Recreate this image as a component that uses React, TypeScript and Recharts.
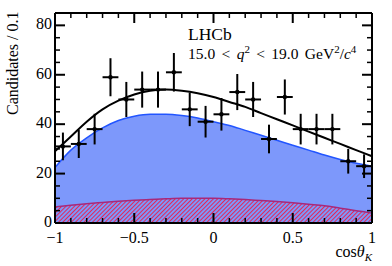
import { ComposedChart, Area, Line, Scatter, ErrorBar, XAxis, YAxis } from 'recharts'

// fit curves sampled every 0.1 in cos(theta_K)
const curveX = [-1, -0.9, -0.8, -0.7, -0.6, -0.5, -0.4, -0.3, -0.2, -0.1, 0, 0.1, 0.2, 0.3, 0.4, 0.5, 0.6, 0.7, 0.8, 0.9, 1]
const totalFit = [29, 35, 41, 46, 49.5, 52, 53.5, 54, 53.5, 52.5, 51, 49, 47, 44.5, 42, 39.5, 37, 34.5, 32, 29.5, 27]
const signalFit = [22.5, 29.5, 34.5, 38.5, 41.5, 43.2, 44, 44, 43.5, 42.5, 41, 39.5, 37.5, 35.5, 33.5, 31.5, 29.5, 27.5, 25.7, 24.2, 23]
const backgroundFit = [6.5, 7.2, 7.8, 8.3, 8.8, 9.2, 9.5, 9.8, 10, 10, 10, 9.8, 9.5, 9.1, 8.7, 8.2, 7.6, 7, 6, 5, 4]

// data points
const binCentres = [-0.95, -0.85, -0.75, -0.65, -0.55, -0.45, -0.35, -0.25, -0.15, -0.05, 0.05, 0.15, 0.25, 0.35, 0.45, 0.55, 0.65, 0.75, 0.85, 0.95]
const candidates = [31, 32, 38, 59, 50, 54, 54, 61, 46, 41, 44, 53, 50, 34, 51, 38, 38, 38, 25, 23]
const candErr = [5.6, 5.7, 6.2, 7.7, 7.1, 7.3, 7.3, 7.8, 6.8, 6.4, 6.6, 7.3, 7.1, 5.8, 7.1, 6.2, 6.2, 6.2, 5.0, 4.8]
const binHalfWidth = 0.05

const xTicks = [-1, -0.9, -0.8, -0.7, -0.6, -0.5, -0.4, -0.3, -0.2, -0.1, 0, 0.1, 0.2, 0.3, 0.4, 0.5, 0.6, 0.7, 0.8, 0.9, 1]
const xLabelled = [-1, -0.5, 0, 0.5, 1]
const yTicks = [0, 5, 10, 15, 20, 25, 30, 35, 40, 45, 50, 55, 60, 65, 70, 75, 80, 85]
const yLabelled = [0, 20, 40, 60, 80]

const curves = curveX.map((x, i) => ({ x, total: totalFit[i], sig: signalFit[i], bkg: backgroundFit[i] }))
const points = binCentres.map((x, i) => ({ x, y: candidates[i], ey: candErr[i], ex: binHalfWidth }))

const font = '"Liberation Serif", "DejaVu Serif", serif'
const fmt = (v: number) => String(v).replace('-', '\u2212')

const Dot = (props: any) => <circle cx={props.cx} cy={props.cy} r={2.2} fill="#000" />

// ticks point into the frame, ROOT style
const XTick = (props: any) => {
  const { x, y, payload, side } = props
  const major = xLabelled.includes(payload.value)
  const len = major ? 10 : 5
  const dir = side === 'top' ? 1 : -1
  return (
    <g>
      <line x1={x} y1={y} x2={x} y2={y + dir * len} stroke="#000" strokeWidth={major ? 2 : 1.5} />
      {side === 'bottom' && major && (
        <text x={x} y={y + 20} textAnchor="middle" fontSize={16} fontFamily={font} fill="#000">{fmt(payload.value)}</text>
      )}
    </g>
  )
}

const YTick = (props: any) => {
  const { x, y, payload, side } = props
  const major = yLabelled.includes(payload.value)
  const len = major ? 10 : 5
  const dir = side === 'left' ? 1 : -1
  return (
    <g>
      <line x1={x} y1={y} x2={x + dir * len} y2={y} stroke="#000" strokeWidth={major ? 2 : 1.5} />
      {side === 'left' && major && (
        <text x={x - 3} y={y} dy="0.25em" textAnchor="end" fontSize={16} fontFamily={font} fill="#000">{payload.value}</text>
      )}
    </g>
  )
}

export default function App() {
  return (
    <div style={{ position: 'relative', width: 392, height: 266, fontFamily: font, background: '#fff' }}>
      <style>{'body{margin:0}'}</style>
      <ComposedChart width={392} height={266} data={curves} margin={{ top: 12, right: 19, bottom: 42, left: 54 }}>
        <defs>
          <pattern id="hatch" width="3" height="3" patternUnits="userSpaceOnUse" patternTransform="rotate(45)">
            <line x1="0" y1="0" x2="0" y2="3" stroke="#e8204f" strokeWidth="1.9" />
          </pattern>
        </defs>
        <XAxis xAxisId="x" dataKey="x" type="number" domain={[-1, 1]} ticks={xTicks} interval={0} height={1}
          tickSize={0} tickMargin={0} tickLine={false} stroke="#000" strokeWidth={2}
          tick={<XTick side="bottom" />} />
        <XAxis xAxisId="xt" dataKey="x" orientation="top" type="number" domain={[-1, 1]} ticks={xTicks} interval={0} height={1}
          tickSize={0} tickMargin={0} tickLine={false} stroke="#000" strokeWidth={2}
          tick={<XTick side="top" />} />
        <YAxis yAxisId="y" type="number" domain={[0, 85]} ticks={yTicks} interval={0} width={1}
          tickSize={0} tickMargin={0} tickLine={false} stroke="#000" strokeWidth={2}
          tick={<YTick side="left" />} />
        <YAxis yAxisId="yr" orientation="right" type="number" domain={[0, 85]} ticks={yTicks} interval={0} width={1}
          tickSize={0} tickMargin={0} tickLine={false} stroke="#000" strokeWidth={2}
          tick={<YTick side="right" />} />

        <Area xAxisId="x" yAxisId="y" dataKey="sig" type="monotone" fill="#7d98fb" fillOpacity={1}
          stroke="#2255ff" strokeWidth={1.5} isAnimationActive={false} />
        <Area xAxisId="x" yAxisId="y" dataKey="bkg" type="monotone" fill="url(#hatch)" fillOpacity={1}
          stroke="#a8287a" strokeWidth={1.5} isAnimationActive={false} />
        <Line xAxisId="x" yAxisId="y" dataKey="total" type="monotone" stroke="#000" strokeWidth={2}
          dot={false} isAnimationActive={false} />
        {/* invisible copy so the mirrored top/right axes get the same scales */}
        <Line xAxisId="xt" yAxisId="yr" dataKey="total" stroke="none" dot={false} activeDot={false}
          legendType="none" isAnimationActive={false} />
        <Scatter xAxisId="x" yAxisId="y" data={points} dataKey="y" shape={<Dot />} isAnimationActive={false}>
          <ErrorBar dataKey="ey" direction="y" width={0} stroke="#000" strokeWidth={2} isAnimationActive={false} />
          <ErrorBar dataKey="ex" direction="x" width={0} stroke="#000" strokeWidth={2} isAnimationActive={false} />
        </Scatter>
      </ComposedChart>

      <div style={{ position: 'absolute', left: 188, top: 24, fontSize: 17.5, lineHeight: '20px', whiteSpace: 'nowrap' }}>LHCb</div>
      <div style={{ position: 'absolute', left: 188, top: 46, fontSize: 15.5, lineHeight: '16px', whiteSpace: 'nowrap', wordSpacing: 2.5 }}>
        15.0 &lt; <i>q</i><sup style={{ fontSize: 11, lineHeight: 0 }}>2</sup> &lt; 19.0 GeV<sup style={{ fontSize: 11, lineHeight: 0 }}>2</sup>/<i>c</i><sup style={{ fontSize: 11, lineHeight: 0 }}>4</sup>
      </div>
      <div style={{ position: 'absolute', right: 20, top: 242, fontSize: 16, lineHeight: '20px', whiteSpace: 'nowrap' }}>
        cos<i>θ</i><sub style={{ fontSize: 11, fontStyle: 'italic', lineHeight: 0 }}>K</sub>
      </div>
      <div style={{ position: 'absolute', left: 3, top: 7, fontSize: 16, lineHeight: '20px', whiteSpace: 'nowrap',
        transformOrigin: 'top left', transform: 'translate(0, 108px) rotate(-90deg)' }}>Candidates / 0.1</div>
    </div>
  )
}
